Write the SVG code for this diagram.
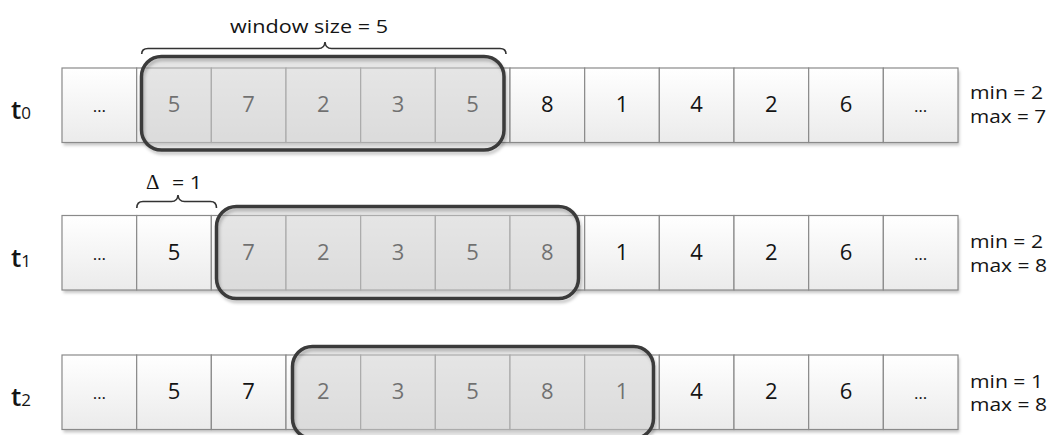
<svg xmlns="http://www.w3.org/2000/svg" width="1048" height="435" viewBox="0 0 1048 435">
<defs>
<linearGradient id="cellGrad" x1="0" y1="0" x2="0" y2="1">
<stop offset="0" stop-color="#ffffff"/>
<stop offset="1" stop-color="#ebebeb"/>
</linearGradient>
<filter id="shadow" x="-5%" y="-10%" width="110%" height="130%">
<feDropShadow dx="1.5" dy="3" stdDeviation="1.5" flood-color="#000" flood-opacity="0.22"/>
</filter>
<rect id="cell" width="74.67" height="74.5" fill="url(#cellGrad)" stroke="#8a8a8a" stroke-width="1.2"/>
</defs>
<style>
text{font-family:"Open Sans","Liberation Sans",sans-serif;fill:#141414}
.v{font-size:22px;text-anchor:middle}
.dots{font-size:17px;text-anchor:middle}
.lbl{font-size:19px}
.tl{font-size:26px;font-weight:600}
.ts{font-size:17px}
.winf{fill:#cbcbcb;fill-opacity:0.5;stroke:none}
.wins{fill:none;stroke:#3b3b3b;stroke-width:3.5;filter:url(#shadow)}
.brace{fill:none;stroke:#333;stroke-width:1.6}
.rowbg{fill:#fff;filter:url(#shadow)}
</style>

<!-- row t0 -->
<g id="row0">
<rect class="rowbg" x="62" y="68" width="896" height="74.5"/>
<g id="r0c0"><use href="#cell" x="62" y="68"/><text class="dots" x="99.33" y="112">…</text></g>
<g id="r0c1"><use href="#cell" x="136.67" y="68"/><text class="v" x="174" y="112">5</text></g>
<g id="r0c2"><use href="#cell" x="211.33" y="68"/><text class="v" x="248.67" y="112">7</text></g>
<g id="r0c3"><use href="#cell" x="286" y="68"/><text class="v" x="323.33" y="112">2</text></g>
<g id="r0c4"><use href="#cell" x="360.67" y="68"/><text class="v" x="398" y="112">3</text></g>
<g id="r0c5"><use href="#cell" x="435.33" y="68"/><text class="v" x="472.67" y="112">5</text></g>
<g id="r0c6"><use href="#cell" x="510" y="68"/><text class="v" x="547.33" y="112">8</text></g>
<g id="r0c7"><use href="#cell" x="584.67" y="68"/><text class="v" x="622" y="112">1</text></g>
<g id="r0c8"><use href="#cell" x="659.33" y="68"/><text class="v" x="696.67" y="112">4</text></g>
<g id="r0c9"><use href="#cell" x="734" y="68"/><text class="v" x="771.33" y="112">2</text></g>
<g id="r0c10"><use href="#cell" x="808.67" y="68"/><text class="v" x="846" y="112">6</text></g>
<g id="r0c11"><use href="#cell" x="883.33" y="68"/><text class="dots" x="920.67" y="112">…</text></g>
</g>
<g id="win0"><rect class="winf" x="141.5" y="56.5" width="362.5" height="93.5" rx="20"/><rect class="wins" x="141.5" y="56.5" width="362.5" height="93.5" rx="20"/></g>
<g id="label-t0"><text x="11" y="119.3"><tspan class="tl">t</tspan><tspan class="ts">0</tspan></text></g>
<g id="stats0"><text class="lbl" x="970" y="99" textLength="73" lengthAdjust="spacingAndGlyphs">min = 2</text><text class="lbl" x="970" y="123" textLength="76" lengthAdjust="spacingAndGlyphs">max = 7</text></g>

<!-- row t1 -->
<g id="row1">
<rect class="rowbg" x="62" y="215.5" width="896" height="74.5"/>
<g id="r1c0"><use href="#cell" x="62" y="215.5"/><text class="dots" x="99.33" y="259.5">…</text></g>
<g id="r1c1"><use href="#cell" x="136.67" y="215.5"/><text class="v" x="174" y="259.5">5</text></g>
<g id="r1c2"><use href="#cell" x="211.33" y="215.5"/><text class="v" x="248.67" y="259.5">7</text></g>
<g id="r1c3"><use href="#cell" x="286" y="215.5"/><text class="v" x="323.33" y="259.5">2</text></g>
<g id="r1c4"><use href="#cell" x="360.67" y="215.5"/><text class="v" x="398" y="259.5">3</text></g>
<g id="r1c5"><use href="#cell" x="435.33" y="215.5"/><text class="v" x="472.67" y="259.5">5</text></g>
<g id="r1c6"><use href="#cell" x="510" y="215.5"/><text class="v" x="547.33" y="259.5">8</text></g>
<g id="r1c7"><use href="#cell" x="584.67" y="215.5"/><text class="v" x="622" y="259.5">1</text></g>
<g id="r1c8"><use href="#cell" x="659.33" y="215.5"/><text class="v" x="696.67" y="259.5">4</text></g>
<g id="r1c9"><use href="#cell" x="734" y="215.5"/><text class="v" x="771.33" y="259.5">2</text></g>
<g id="r1c10"><use href="#cell" x="808.67" y="215.5"/><text class="v" x="846" y="259.5">6</text></g>
<g id="r1c11"><use href="#cell" x="883.33" y="215.5"/><text class="dots" x="920.67" y="259.5">…</text></g>
</g>
<g id="win1"><rect class="winf" x="216.5" y="206.5" width="362" height="92" rx="20"/><rect class="wins" x="216.5" y="206.5" width="362" height="92" rx="20"/></g>
<g id="label-t1"><text x="11" y="266.8"><tspan class="tl">t</tspan><tspan class="ts">1</tspan></text></g>
<g id="stats1"><text class="lbl" x="970" y="248" textLength="73" lengthAdjust="spacingAndGlyphs">min = 2</text><text class="lbl" x="970" y="271.5" textLength="77" lengthAdjust="spacingAndGlyphs">max = 8</text></g>

<!-- row t2 -->
<g id="row2">
<rect class="rowbg" x="62" y="355" width="896" height="74.5"/>
<g id="r2c0"><use href="#cell" x="62" y="355"/><text class="dots" x="99.33" y="399">…</text></g>
<g id="r2c1"><use href="#cell" x="136.67" y="355"/><text class="v" x="174" y="399">5</text></g>
<g id="r2c2"><use href="#cell" x="211.33" y="355"/><text class="v" x="248.67" y="399">7</text></g>
<g id="r2c3"><use href="#cell" x="286" y="355"/><text class="v" x="323.33" y="399">2</text></g>
<g id="r2c4"><use href="#cell" x="360.67" y="355"/><text class="v" x="398" y="399">3</text></g>
<g id="r2c5"><use href="#cell" x="435.33" y="355"/><text class="v" x="472.67" y="399">5</text></g>
<g id="r2c6"><use href="#cell" x="510" y="355"/><text class="v" x="547.33" y="399">8</text></g>
<g id="r2c7"><use href="#cell" x="584.67" y="355"/><text class="v" x="622" y="399">1</text></g>
<g id="r2c8"><use href="#cell" x="659.33" y="355"/><text class="v" x="696.67" y="399">4</text></g>
<g id="r2c9"><use href="#cell" x="734" y="355"/><text class="v" x="771.33" y="399">2</text></g>
<g id="r2c10"><use href="#cell" x="808.67" y="355"/><text class="v" x="846" y="399">6</text></g>
<g id="r2c11"><use href="#cell" x="883.33" y="355"/><text class="dots" x="920.67" y="399">…</text></g>
</g>
<g id="win2"><rect class="winf" x="292.5" y="346.5" width="361" height="92" rx="20"/><rect class="wins" x="292.5" y="346.5" width="361" height="92" rx="20"/></g>
<g id="label-t2"><text x="11" y="406.3"><tspan class="tl">t</tspan><tspan class="ts">2</tspan></text></g>
<g id="stats2"><text class="lbl" x="970" y="387.5" textLength="73" lengthAdjust="spacingAndGlyphs">min = 1</text><text class="lbl" x="970" y="411" textLength="77" lengthAdjust="spacingAndGlyphs">max = 8</text></g>

<!-- braces -->
<g id="connectors">
<path class="brace" d="M141.7,54 Q141.7,48.5 148,48.5 L318.5,48.5 Q324.5,48.5 325,42 Q325.5,48.5 331.5,48.5 L500,48.5 Q506,48.5 506,54"/>
<path class="brace" d="M136.8,208 Q136.8,201.5 143,201.5 L171.5,201.5 Q177.5,201.5 178,195 Q178.5,201.5 184.5,201.5 L210.5,201.5 Q216.5,201.5 216.5,208"/>
</g>
<g id="label-window"><text class="lbl" x="230" y="33" textLength="158" lengthAdjust="spacingAndGlyphs">window size = 5</text></g>
<g id="label-delta"><text x="146" y="189.3" font-size="21" style="font-family:'Liberation Serif','DejaVu Serif',serif">Δ</text><text class="lbl" x="172" y="189.3" textLength="30" lengthAdjust="spacingAndGlyphs">= 1</text></g>
</svg>
